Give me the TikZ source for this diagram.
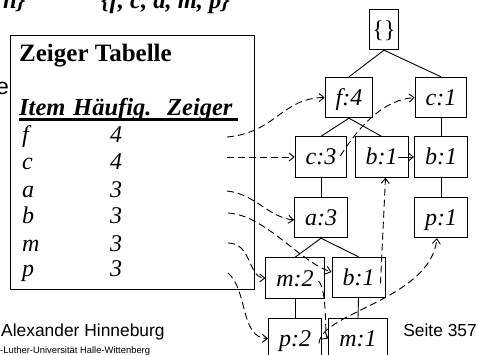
\documentclass[tikz,border=0pt]{standalone}
\usepackage{fontspec}
\setmainfont{Liberation Serif}
\newfontfamily\arialf{Liberation Sans}
\usetikzlibrary{arrows.meta}
\tikzset{
  tnode/.style={draw, line width=0.9pt, minimum height=40.5pt, inner xsep=10.5pt, inner ysep=0pt,
    text height=16pt, text depth=0pt, font=\fontsize{24}{28}\selectfont\itshape},
  treeedge/.style={line width=0.9pt},
  link/.style={line width=0.9pt, dash pattern=on 7pt off 4pt, -{Straight Barb[length=5pt,width=8pt]}},
  tabtext/.style={anchor=base west, inner sep=0pt, font=\fontsize{24}{28}\selectfont\itshape},
  headtext/.style={anchor=base west, inner sep=0pt, font=\fontsize{24.5}{28}\selectfont\bfseries\itshape},
  sanstext/.style={inner sep=0pt, font=\arialf\fontsize{17.4}{20}\selectfont},
}
\begin{document}
\begin{tikzpicture}[x=1pt,y=-1pt]
\useasboundingbox (0,0) rectangle (478,355);
\fill[white] (0,0) rectangle (478,355);
\clip (0,0) rectangle (478,355);

% clipped texts from behind
\node[headtext] (topn) at (3,9) {n\}};
\node[headtext] (topset) at (101,9) {\{f, c, a, m, p\}};
\node[anchor=base east, inner sep=0pt, font=\arialf\fontsize{23}{26}\selectfont] (lefte) at (9,95) {e};

% table
\node[draw, line width=1pt, anchor=north west, minimum width=244pt, minimum height=254pt, inner sep=0pt] (tbl) at (10,35) {};
\node[anchor=base west, inner sep=0pt, font=\fontsize{25}{28}\selectfont\bfseries] (title) at (19,62) {Zeiger Tabelle};
\node[headtext] (hitem) at (19,116) {Item};
\node[headtext] (hhaeuf) at (73,116) {Häufig.};
\node[headtext] (hzeig) at (167,116) {Zeiger};
\draw[line width=2.2pt] (hitem.base west) ++(0,3.5) coordinate (ulA) -- (238,119.5) coordinate (ulB);

\node[tabtext] (rf) at (22,143) {f};   \node[tabtext] (nf) at (110,143) {4};
\node[tabtext] (rc) at (22,170) {c};   \node[tabtext] (nc) at (110,170) {4};
\node[tabtext] (ra) at (22,197) {a};   \node[tabtext] (na) at (110,197) {3};
\node[tabtext] (rb) at (22,223) {b};   \node[tabtext] (nb) at (110,223) {3};
\node[tabtext] (rm) at (22,251) {m};   \node[tabtext] (nm) at (110,251) {3};
\node[tabtext] (rp) at (22,276) {p};   \node[tabtext] (np) at (110,276) {3};

\coordinate (pf) at (227,137);
\coordinate (pc) at (227,157);
\coordinate (pa) at (227,191);
\coordinate (pb) at (228,213);
\coordinate (pm) at (228,243);
\coordinate (pp) at (228,273);

% tree
\node[tnode, font=\fontsize{24}{28}\selectfont\upshape, inner xsep=3pt] (root) at (384,29.5) {\{\}};
\node[tnode] (f4) at (349,97.5) {f:4};
\node[tnode] (c1) at (441,97.5) {c:1};
\node[tnode] (c3) at (321,157) {c:3};
\node[tnode] (b1m) at (381.5,157) {b:1};
\node[tnode] (b1r) at (441,157) {b:1};
\node[tnode] (a3) at (321,217.5) {a:3};
\node[tnode] (p1) at (441,217.5) {p:1};
\node[tnode] (m2) at (295,278) {m:2};
\node[tnode] (b1l) at (358.5,277.5) {b:1};
\node[tnode] (p2) at (295,338.5) {p:2};
\node[tnode] (m1) at (358,338.5) {m:1};

\draw[treeedge] (root.south) -- (f4.north);
\draw[treeedge] (root.south) -- (c1.north);
\draw[treeedge] (f4.south) -- (c3.north);
\draw[treeedge] (f4.south) -- (b1m.north);
\draw[treeedge] (c1.south) -- (b1r.north);
\draw[treeedge] (c3.south) -- (a3.north);
\draw[treeedge] (b1r.south) -- (p1.north);
\draw[treeedge] (a3.south) -- (m2.north);
\draw[treeedge] (a3.south) -- (b1l.north);
\draw[treeedge] (m2.south) -- (p2.north);
\draw[treeedge] (b1l.south) -- (m1.north);

% header table pointers
\draw[link] (pf) .. controls (275,133) and (282,98) .. (f4.west);
\draw[link] (pc) -- (c3.west);
\draw[link] (pa) .. controls (255,194) and (268,217) .. ([yshift=-2.5pt]a3.west);
\draw[link] (pb) .. controls (265,215) and (300,262) .. ([yshift=5.5pt]b1l.west);
\draw[link] (pm) .. controls (252,243) and (248,278) .. (m2.west);
\draw[link] (pp) .. controls (248,290) and (240,338) .. (p2.west);

% node links
\draw[link] ([xshift=-7pt,yshift=1pt]c3.east) .. controls (362,122) and (385,100) .. (c1.west);
\draw[link, solid] ([xshift=-10pt]b1m.east) -- (b1r.west);
\draw[link] ([xshift=-5pt,yshift=-6pt]b1l.east) -- ([xshift=4pt]b1m.south);
\draw[link] ([xshift=-6pt,yshift=-3pt]m2.east) .. controls (328,292) and (324,336) .. (m1.west);
\draw[link] ([xshift=-3pt,yshift=-5pt]p2.east) .. controls (321,312) and (430,300) .. ([xshift=-4pt]p1.south);

% footer
\node[sanstext, anchor=base west] (auth) at (1,336) {Alexander Hinneburg};
\node[anchor=base west, inner sep=0pt, font=\arialf\fontsize{9.4}{11}\selectfont] (univ) at (0,353) {-Luther-Universität Halle-Wittenberg};
\node[sanstext, anchor=base east] (seite) at (477,336) {Seite 357};
\end{tikzpicture}
\end{document}
